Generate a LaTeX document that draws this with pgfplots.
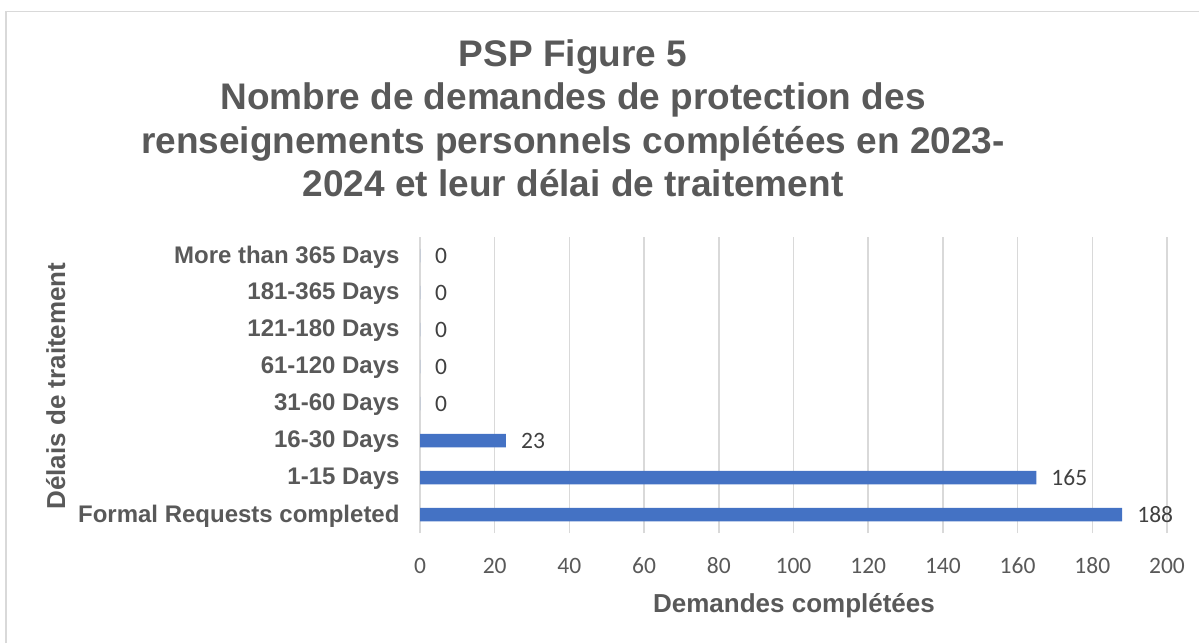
\documentclass[border=0pt]{standalone}
\usepackage{pgfplots}
\pgfplotsset{compat=1.18}
\usepackage{fontspec}
\setmainfont{Liberation Sans}
\newfontfamily\calibri{Carlito}
\definecolor{barblue}{HTML}{4472C4}
\definecolor{txtgray}{HTML}{595959}
\definecolor{lblgray}{HTML}{404040}
\definecolor{gridgray}{HTML}{D9D9D9}
\begin{document}
\begin{tikzpicture}[x=1pt,y=1pt]
\path[use as bounding box] (0,0) rectangle (1199,-643);
\draw[gridgray, line width=1.5pt] (6,-643) -- (6,-11.5) -- (1199,-11.5);
\begin{axis}[
  at={(420pt,-533pt)}, anchor=south west,
  scale only axis, width=747pt, height=296pt,
  xbar, bar width=13.5pt,
  xmin=0, xmax=200, ymin=-0.5, ymax=7.5,
  xtick={0,20,...,200},
  ytick={0,1,2,3,4,5,6,7},
  yticklabels={Formal Requests completed,1-15 Days,16-30 Days,31-60 Days,61-120 Days,121-180 Days,181-365 Days,More than 365 Days},
  axis line style={draw=none},
  tick style={draw=none},
  xmajorgrids, major grid style={gridgray, line width=1.5pt},
  /pgf/number format/assume math mode=true,
  xticklabel style={font=\calibri\fontsize{23.5}{28}\selectfont, text=txtgray, anchor=base, inner sep=0pt, yshift=-40pt},
  yticklabel style={font=\bfseries\fontsize{24}{28}\selectfont, text=txtgray, anchor=east, inner sep=0pt, xshift=-16pt, yshift=-1.5pt},
  nodes near coords,
  every node near coord/.append style={font=\calibri\fontsize{23.5}{28}\selectfont, text=lblgray, anchor=west, inner sep=0pt, xshift=15pt},
]
\addplot[fill=barblue, draw=none] coordinates {
  (188,0) (165,1) (23,2) (0,3) (0,4) (0,5) (0,6) (0,7)
};
\end{axis}
\node[font=\bfseries\fontsize{37}{43}\selectfont, text=txtgray, anchor=base, inner sep=0pt] at (573,-66) {PSP Figure 5};
\node[font=\bfseries\fontsize{37}{43}\selectfont, text=txtgray, anchor=base, inner sep=0pt] at (573,-109.5) {Nombre de demandes de protection des};
\node[font=\bfseries\fontsize{37}{43}\selectfont, text=txtgray, anchor=base, inner sep=0pt] at (573,-153) {renseignements personnels complétées en 2023-};
\node[font=\bfseries\fontsize{37}{43}\selectfont, text=txtgray, anchor=base, inner sep=0pt] at (573,-196) {2024 et leur délai de traitement};
\node[font=\bfseries\fontsize{26}{30}\selectfont, text=txtgray, anchor=base, inner sep=0pt, rotate=90] at (65,-386) {Délais de traitement};
\node[font=\bfseries\fontsize{26}{30}\selectfont, text=txtgray, anchor=base, inner sep=0pt] at (794,-612.5) {Demandes complétées};
\end{tikzpicture}
\end{document}
